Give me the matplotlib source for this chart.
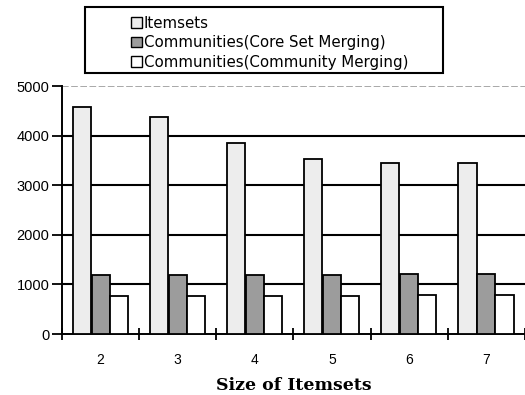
import matplotlib
matplotlib.use("Agg")
import matplotlib.pyplot as plt
import numpy as np
from matplotlib.patches import Patch, Rectangle

sizes = [2, 3, 4, 5, 6, 7]
itemsets = [4580, 4380, 3850, 3530, 3450, 3450]
core_set = [1180, 1180, 1180, 1180, 1200, 1200]
community = [770, 770, 770, 770, 780, 790]
series_names = ["Itemsets", "Communities(Core Set Merging)", "Communities(Community Merging)"]
yticks = [0, 1000, 2000, 3000, 4000, 5000]

W, H = 525, 395
fig = plt.figure(figsize=(W / 100, H / 100), dpi=100)
ax = fig.add_axes([62 / W, (H - 334) / H, 1 - 62 / W, (334 - 86) / H])

x = np.array(sizes, dtype=float)
bw = 0.235
gap = 0.01
colors = ["#ededed", "#9c9c9c", "#ffffff"]
offsets = [-(bw + gap), 0.0, bw]
for vals, c, off in zip([itemsets, core_set, community], colors, offsets):
    ax.bar(x + off, vals, width=bw, color=c, edgecolor="black",
           linewidth=1.3, zorder=3)

ax.set_xlim(1.5, 7.5)
ax.set_ylim(0, 5000)
for v in yticks[1:-1]:
    ax.axhline(v, color="black", linewidth=1.5, zorder=1)
ax.axhline(5000, color="#9a9a9a", linewidth=1.2, linestyle=(0, (4, 1.5)), zorder=1)

for s in ["top", "right"]:
    ax.spines[s].set_visible(False)
ax.spines["left"].set_linewidth(1.4)
ax.spines["bottom"].set_linewidth(1.4)

ax.set_yticks(yticks)
ax.set_yticklabels([str(v) for v in yticks], fontsize=10.5, family="Liberation Sans")
ax.tick_params(axis="y", direction="out", length=7, width=1.3, pad=2)

ax.set_xticks(sizes)
ax.set_xticklabels([str(s) for s in sizes], fontsize=10, family="Liberation Sans")
ax.set_xticks(np.arange(1.5, 8.0, 1.0), minor=True)
ax.tick_params(axis="x", which="major", length=0, pad=14)
ax.tick_params(axis="x", which="minor", direction="inout", length=9, width=1.3)

ax.set_xlabel("Size of Itemsets", fontsize=12.5, fontweight="bold",
              family="DejaVu Serif", labelpad=7)

# legend box
fig.patches.append(Rectangle((85 / W, (H - 73) / H), 358 / W, 66 / H,
                             transform=fig.transFigure, fill=False,
                             edgecolor="black", linewidth=1.5))
handles = [Patch(facecolor=c, edgecolor="black", linewidth=1.0) for c in colors]
leg = fig.legend(handles, series_names, loc="upper left",
                 bbox_to_anchor=(123 / W, 1 - 8 / H), frameon=False,
                 borderpad=0, handlelength=0.75, handleheight=0.7,
                 handletextpad=0.12, labelspacing=0.3,
                 prop={"family": "DejaVu Sans", "size": 10.8})

fig.savefig("out.png", dpi=100)
